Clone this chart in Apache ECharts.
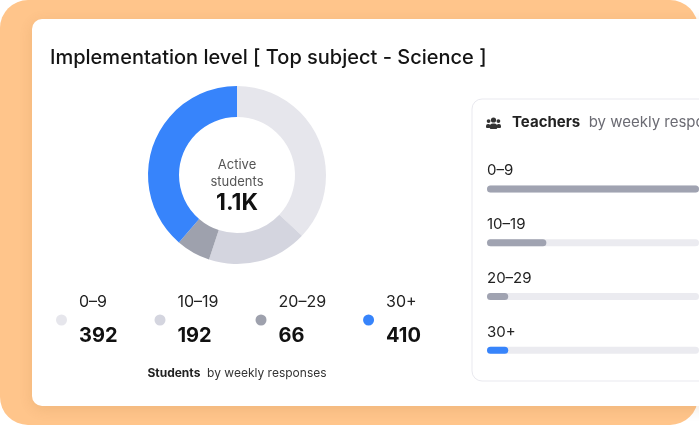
<!DOCTYPE html>
<html>
<head>
    <meta charset="UTF-8">
    <title>Implementation level</title>
    <script src="https://cdn.jsdelivr.net/npm/echarts@6.0.0/dist/echarts.min.js"></script>
    <style>
        html, body { margin: 0; padding: 0; background: #ffffff; }
        #chart { width: 699px; height: 426px; }
    </style>
</head>
<body>
    <div id="chart"></div>
    <script>
        // 学生：按每周回复数分组
        const ranges = ['0–9', '10–19', '20–29', '30+'];
        const studentCounts = [392, 192, 66, 410];
        const studentColors = ['#e6e6ec', '#d4d5df', '#9ea1ad', '#3784fb'];

        // 教师：同样的分组（右侧进度条）
        const teacherValues = [50, 14, 5, 5];
        const teacherMax = 50;
        const teacherColors = ['#a0a3b1', '#a0a3b1', '#a0a3b1', '#3784fb'];

        const total = studentCounts.reduce((a, b) => a + b, 0);
        const totalLabel = (total / 1000).toFixed(1) + 'K';

        const font = 'Inter, "Noto Sans", sans-serif';
        const myChart = echarts.init(document.getElementById('chart'));

        const option = {
            animation: false,
            textStyle: { fontFamily: font },
            graphic: [
                // 橙色底
                { type: 'rect', z: -10, shape: { x: 0, y: 0, width: 698, height: 425, r: 28 }, style: { fill: '#ffc58b' } },
                // 白色卡片
                { type: 'rect', z: -9, shape: { x: 32, y: 19, width: 720, height: 387, r: 10 },
                  style: { fill: '#ffffff', shadowBlur: 14, shadowColor: 'rgba(120,70,20,0.12)', shadowOffsetY: 3 } },
                // 右侧教师面板
                { type: 'rect', z: -8, shape: { x: 472, y: 99, width: 300, height: 282, r: 10 },
                  style: { fill: '#ffffff', stroke: '#e9e9ef', lineWidth: 1 } },
                // 人员图标
                { type: 'group', z: -7, children: [
                    { type: 'circle', shape: { cx: 493.5, cy: 120, r: 2.6 }, style: { fill: '#333' } },
                    { type: 'rect', shape: { x: 489.8, y: 123.5, width: 7.4, height: 5.5, r: [3, 3, 1, 1] }, style: { fill: '#333' } },
                    { type: 'circle', shape: { cx: 488.6, cy: 121.1, r: 1.9 }, style: { fill: '#333' } },
                    { type: 'rect', shape: { x: 486, y: 124.1, width: 4.4, height: 4, r: [2, 2, 1, 1] }, style: { fill: '#333' } },
                    { type: 'circle', shape: { cx: 498.4, cy: 121.1, r: 1.9 }, style: { fill: '#333' } },
                    { type: 'rect', shape: { x: 496.6, y: 124.1, width: 4.4, height: 4, r: [2, 2, 1, 1] }, style: { fill: '#333' } }
                ] }
            ],
            title: [{
                text: 'Implementation level [ Top subject - Science ]',
                left: 50, top: 48, padding: 0,
                textStyle: { fontSize: 20, fontWeight: 500, color: '#141414', fontFamily: font }
            }, {
                text: 'Active\nstudents',
                subtext: totalLabel,
                left: 237, top: 157, padding: 0, itemGap: 1,
                textAlign: 'center',
                textStyle: { fontSize: 13, fontWeight: 'normal', color: '#555', lineHeight: 17, fontFamily: font },
                subtextStyle: { fontSize: 23, fontWeight: 'bold', color: '#111', fontFamily: font }
            }, {
                text: '{b|Students}{n|  by weekly responses}',
                left: 237, top: 367, padding: 0, textAlign: 'center',
                textStyle: {
                    fontWeight: 'normal',
                    rich: {
                        b: { fontSize: 12, fontWeight: 'bold', color: '#222', fontFamily: font },
                        n: { fontSize: 12, fontWeight: 'normal', color: '#333', fontFamily: font }
                    }
                }
            }, {
                text: '{b|Teachers}{n|  by weekly responses}',
                left: 512, top: 115, padding: 0,
                textStyle: {
                    fontWeight: 'normal',
                    rich: {
                        b: { fontSize: 15, fontWeight: 'bold', color: '#222', fontFamily: font },
                        n: { fontSize: 15, fontWeight: 'normal', color: '#6b6b73', fontFamily: font }
                    }
                }
            }],
            legend: {
                data: ranges,
                left: 56, top: 294, padding: 0,
                icon: 'circle', itemWidth: 11, itemHeight: 11, itemGap: 37,
                selectedMode: false,
                formatter: name => {
                    const i = ranges.indexOf(name);
                    return '{l|' + name + '}\n{v|' + studentCounts[i] + '}';
                },
                textStyle: {
                    rich: {
                        l: { fontSize: 16, color: '#222', lineHeight: 32, padding: [0, 0, 0, 7], fontFamily: font },
                        v: { fontSize: 20, fontWeight: 'bold', color: '#111', lineHeight: 36, padding: [0, 0, 0, 7], fontFamily: font }
                    }
                }
            },
            grid: { left: 487, top: 162, width: 280, height: 215 },
            xAxis: { type: 'value', min: 0, max: teacherMax, show: false },
            yAxis: { type: 'category', data: ranges, inverse: true, show: false },
            series: [{
                type: 'pie',
                center: [237, 175],
                radius: [58, 89],
                startAngle: 90,
                silent: true,
                label: { show: false },
                labelLine: { show: false },
                data: ranges.map((r, i) => ({ name: r, value: studentCounts[i], itemStyle: { color: studentColors[i] } }))
            }, {
                type: 'bar',
                barWidth: 7,
                silent: true,
                showBackground: true,
                backgroundStyle: { color: '#ebebf0', borderRadius: 4 },
                label: {
                    show: true,
                    position: [0, -22],
                    formatter: '{b}',
                    fontSize: 15, color: '#222', fontFamily: font
                },
                data: teacherValues.map((v, i) => ({ value: v, itemStyle: { color: teacherColors[i], borderRadius: 4 } }))
            }]
        };

        myChart.setOption(option);
    </script>
</body>
</html>
